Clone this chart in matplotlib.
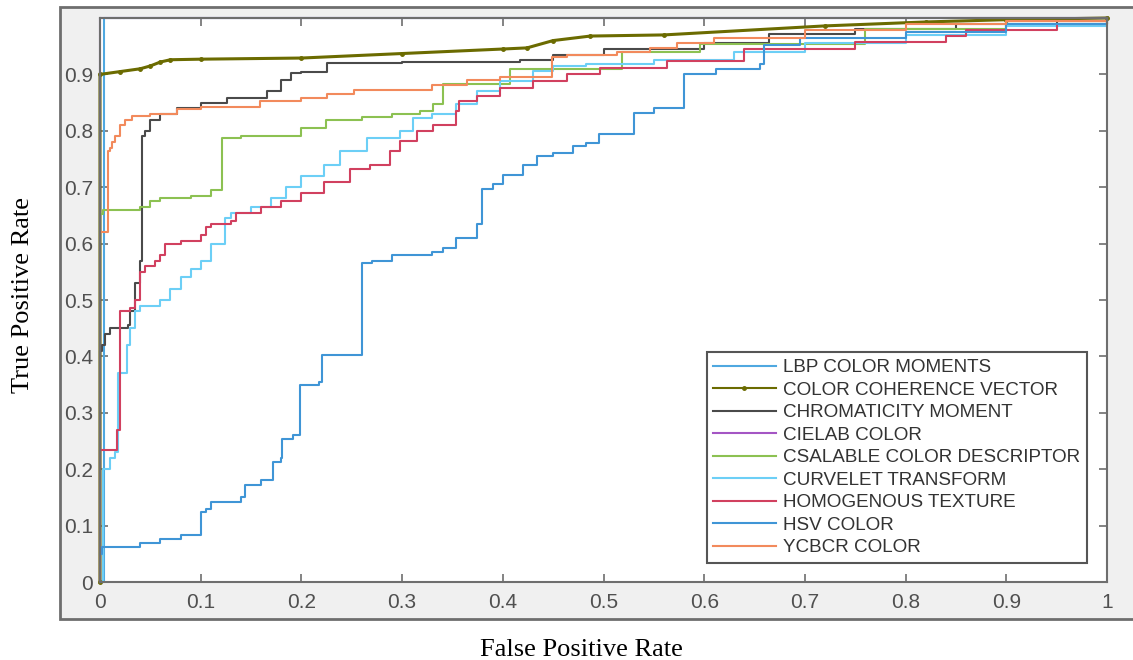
import matplotlib
matplotlib.use('Agg')
import matplotlib.pyplot as plt
from matplotlib.patches import Rectangle

# ROC curves (fpr / tpr pairs)
labels = ['LBP COLOR MOMENTS', 'COLOR COHERENCE VECTOR', 'CHROMATICITY MOMENT',
          'CIELAB COLOR', 'CSALABLE COLOR DESCRIPTOR', 'CURVELET TRANSFORM',
          'HOMOGENOUS TEXTURE', 'HSV COLOR', 'YCBCR COLOR']

lbp_fpr = [0, 0.004, 0.004, 1.0]
lbp_tpr = [0, 0.05, 1.0, 1.0]

ccv_fpr = [0, 0, 0.02, 0.04, 0.05, 0.06, 0.07, 0.1, 0.2, 0.3,
           0.4, 0.424, 0.45, 0.487, 0.56, 0.72, 0.82, 0.9, 1.0]
ccv_tpr = [0, 0.90, 0.905, 0.91, 0.915, 0.922, 0.926, 0.927, 0.929, 0.937,
           0.945, 0.947, 0.96, 0.968, 0.97, 0.986, 0.993, 0.997, 1.0]

chr_fpr = [0, 0, 0.002, 0.005, 0.01, 0.028, 0.03, 0.035, 0.04, 0.042,
           0.045, 0.05, 0.06, 0.076, 0.1, 0.126, 0.166, 0.18, 0.19, 0.2,
           0.225, 0.3, 0.417, 0.45, 0.5, 0.6, 0.664, 0.664, 0.75, 0.85,
           0.95, 1.0]
chr_tpr = [0, 0.41, 0.42, 0.44, 0.45, 0.455, 0.48, 0.53, 0.57, 0.79,
           0.80, 0.82, 0.83, 0.84, 0.85, 0.858, 0.87, 0.89, 0.902, 0.905,
           0.92, 0.922, 0.925, 0.935, 0.945, 0.955, 0.96, 0.972, 0.98, 0.99,
           0.995, 1.0]

lab_fpr = [0, 0, 1.0]
lab_tpr = [0, 1.0, 1.0]

csc_fpr = [0, 0, 0.003, 0.04, 0.05, 0.06, 0.09, 0.11, 0.121, 0.121,
           0.14, 0.2, 0.224, 0.26, 0.29, 0.318, 0.331, 0.341, 0.407, 0.444,
           0.518, 0.518, 0.596, 0.76, 0.9, 1.0]
csc_tpr = [0, 0.652, 0.66, 0.665, 0.675, 0.68, 0.685, 0.695, 0.70, 0.787,
           0.79, 0.805, 0.82, 0.825, 0.83, 0.835, 0.847, 0.883, 0.909, 0.91,
           0.915, 0.94, 0.954, 0.98, 0.99, 1.0]

cur_fpr = [0, 0.003, 0.003, 0.01, 0.015, 0.018, 0.027, 0.03, 0.035, 0.04,
           0.06, 0.07, 0.08, 0.09, 0.10, 0.11, 0.124, 0.124, 0.13, 0.15,
           0.17, 0.185, 0.2, 0.222, 0.238, 0.265, 0.298, 0.311, 0.33, 0.354,
           0.374, 0.397, 0.43, 0.45, 0.483, 0.55, 0.63, 0.7, 0.8, 0.9,
           1.0]
cur_tpr = [0, 0.10, 0.20, 0.22, 0.23, 0.37, 0.42, 0.45, 0.48, 0.49,
           0.50, 0.52, 0.54, 0.555, 0.57, 0.60, 0.604, 0.645, 0.655, 0.665,
           0.68, 0.70, 0.72, 0.74, 0.764, 0.787, 0.80, 0.822, 0.83, 0.847,
           0.87, 0.888, 0.906, 0.915, 0.918, 0.925, 0.94, 0.955, 0.97, 0.985,
           1.0]

hom_fpr = [0, 0, 0.017, 0.02, 0.03, 0.035, 0.04, 0.04, 0.045, 0.055,
           0.06, 0.065, 0.08, 0.10, 0.105, 0.11, 0.13, 0.135, 0.16, 0.18,
           0.2, 0.222, 0.248, 0.268, 0.288, 0.298, 0.315, 0.331, 0.354, 0.357,
           0.374, 0.397, 0.43, 0.464, 0.497, 0.563, 0.64, 0.75, 0.84, 0.86,
           0.95, 1.0]
hom_tpr = [0, 0.234, 0.27, 0.48, 0.485, 0.50, 0.51, 0.55, 0.56, 0.57,
           0.58, 0.60, 0.605, 0.615, 0.63, 0.635, 0.64, 0.655, 0.665, 0.675,
           0.69, 0.71, 0.733, 0.74, 0.764, 0.782, 0.80, 0.81, 0.835, 0.853,
           0.861, 0.876, 0.888, 0.90, 0.911, 0.924, 0.945, 0.958, 0.968, 0.978,
           0.99, 1.0]

hsv_fpr = [0, 0.002, 0.04, 0.06, 0.08, 0.10, 0.10, 0.105, 0.11, 0.14,
           0.144, 0.16, 0.172, 0.172, 0.18, 0.181, 0.192, 0.199, 0.199, 0.217,
           0.22, 0.22, 0.26, 0.26, 0.27, 0.29, 0.33, 0.341, 0.354, 0.374,
           0.379, 0.379, 0.39, 0.40, 0.42, 0.434, 0.45, 0.47, 0.483, 0.496,
           0.53, 0.53, 0.55, 0.58, 0.58, 0.612, 0.655, 0.659, 0.659, 0.695,
           0.8, 0.9, 1.0]
hsv_tpr = [0.05, 0.062, 0.07, 0.077, 0.083, 0.09, 0.124, 0.13, 0.142, 0.15,
           0.172, 0.18, 0.183, 0.213, 0.22, 0.254, 0.26, 0.27, 0.35, 0.355,
           0.38, 0.403, 0.405, 0.565, 0.57, 0.58, 0.585, 0.592, 0.61, 0.634,
           0.64, 0.696, 0.705, 0.722, 0.74, 0.755, 0.76, 0.773, 0.778, 0.794,
           0.80, 0.831, 0.84, 0.849, 0.90, 0.909, 0.918, 0.92, 0.953, 0.965,
           0.975, 0.99, 1.0]

ycb_fpr = [0, 0, 0.008, 0.01, 0.012, 0.015, 0.02, 0.025, 0.032, 0.05,
           0.076, 0.1, 0.159, 0.2, 0.225, 0.252, 0.33, 0.364, 0.397, 0.449,
           0.449, 0.464, 0.513, 0.546, 0.573, 0.61, 0.7, 0.8, 0.9, 1.0]
ycb_tpr = [0, 0.62, 0.764, 0.77, 0.78, 0.79, 0.81, 0.82, 0.826, 0.83,
           0.838, 0.842, 0.853, 0.858, 0.865, 0.873, 0.882, 0.89, 0.896, 0.905,
           0.93, 0.935, 0.94, 0.947, 0.956, 0.965, 0.978, 0.99, 0.995, 1.0]

colors = ['#4fa8e0', '#6b6b00', '#4a4a4a', '#a455c4', '#8cc152',
          '#6ccff6', '#d1405f', '#3f95d6', '#f28a5c']

curves = [(lbp_fpr, lbp_tpr), (ccv_fpr, ccv_tpr), (chr_fpr, chr_tpr),
          (lab_fpr, lab_tpr), (csc_fpr, csc_tpr), (cur_fpr, cur_tpr),
          (hom_fpr, hom_tpr), (hsv_fpr, hsv_tpr), (ycb_fpr, ycb_tpr)]

W, H = 1133, 660
fig = plt.figure(figsize=(W / 100, H / 100), dpi=100)
fig.patch.set_facecolor('white')

# gray figure panel behind the axes (screenshot look)
panel = Rectangle((60 / W, 1 - 619 / H), 1.2, 612 / H, transform=fig.transFigure,
                  facecolor='#f0f0f0', edgecolor='#6e6e6e', lw=2, zorder=-10)
fig.patches.append(panel)

ax = fig.add_axes([100 / W, 1 - 582 / H, 1007 / W, 564 / H])
ax.set_zorder(5)
ax.set_facecolor('white')

for (x, y), lab, c in zip(curves, labels, colors):
    if lab == 'COLOR COHERENCE VECTOR':
        ax.plot(x, y, color=c, lw=2.2, marker='.', markersize=5, label=lab, clip_on=False)
    else:
        ax.plot(x, y, color=c, lw=1.5, drawstyle='steps-post', label=lab, clip_on=False)

ticks = [i / 10 for i in range(11)]
ax.set_xlim(0, 1)
ax.set_ylim(0, 1)
ax.set_xticks(ticks)
ax.set_yticks(ticks)
ax.set_xticklabels(['0'] + ['%.1f' % t for t in ticks[1:-1]] + ['1'])
ax.set_yticklabels(['0'] + ['%.1f' % t for t in ticks[1:-1]] + [''])
for lbl in ax.get_xticklabels() + ax.get_yticklabels():
    lbl.set_family('Liberation Sans')
ax.tick_params(direction='in', top=True, right=True, length=6, width=1.2,
               colors='#6e6e6e', labelcolor='#505050', labelsize=15)
ax.tick_params(axis='x', pad=8)
ax.tick_params(axis='y', pad=5)
for s in ax.spines.values():
    s.set_color('#6e6e6e')
    s.set_linewidth(1.5)

leg = ax.legend(loc='lower right', bbox_to_anchor=(0.980, 0.034), borderaxespad=0,
                fancybox=False, edgecolor='#555555', framealpha=1,
                prop={'family': 'Liberation Sans', 'size': 13.6},
                handlelength=3.3, handletextpad=0.4, labelspacing=0.28, borderpad=0.35)
leg.get_frame().set_linewidth(1.5)
for t in leg.get_texts():
    t.set_color('#333333')
for h in leg.get_lines():
    h.set_linewidth(1.5)

fig.text(581 / W, 1 - 650 / H, 'False Positive Rate', ha='center', va='center',
         family='Liberation Serif', size=19)
fig.text(23 / W, 1 - 295 / H, 'True Positive Rate', ha='center', va='center',
         rotation=90, family='Liberation Serif', size=19)

fig.savefig('out.png', dpi=100)
